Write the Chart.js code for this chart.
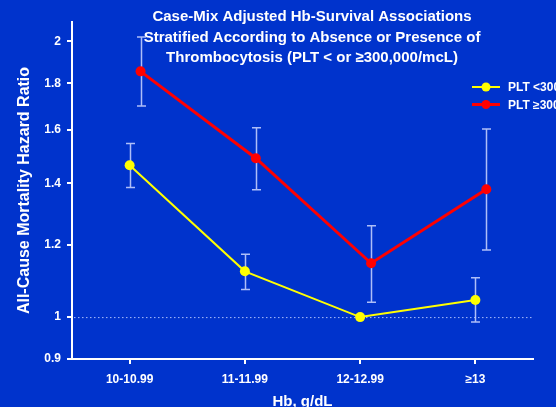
<!DOCTYPE html>
<html>
<head>
<meta charset="utf-8">
<script src="https://cdn.jsdelivr.net/npm/chart.js@4/dist/chart.umd.min.js"></script>
<style>
  html, body { margin: 0; padding: 0; background: #0033cc; }
  #wrap { width: 556px; height: 407px; position: relative; }
</style>
</head>
<body>
<div id="wrap"><canvas id="c" width="556" height="407"></canvas></div>
<script>
// ---- data ----
const categories = ['10-10.99', '11-11.99', '12-12.99', '\u226513'];
const yTicks = [0.9, 1, 1.2, 1.4, 1.6, 1.8, 2];
const pltLowLabel = 'PLT <300,000/mcL';
const pltHighLabel = 'PLT \u2265300,000/mcL';
const pltLow = [1.465, 1.122, 1.0, 1.044];
const pltLowLower = [1.385, 1.072, null, 0.988];
const pltLowUpper = [1.547, 1.171, null, 1.104];
const pltHigh = [1.855, 1.491, 1.145, 1.379];
const pltHighLower = [1.700, 1.377, 1.038, 1.184];
const pltHighUpper = [2.022, 1.610, 1.258, 1.605];
const highOffset = 0.095; // side-by-side shift of the second group within a category
const titleLines = ['Case-Mix Adjusted Hb-Survival Associations',
                    'Stratified According to Absence or Presence of',
                    'Thrombocytosis (PLT < or \u2265300,000/mcL)'];

const FONT = "'Liberation Sans', Arial, sans-serif";
const BG = '#0033cc';
const ERR = 'rgba(205,215,255,0.85)';

const lowPts = pltLow.map((v, i) => ({x: i, y: v}));
const highPts = pltHigh.map((v, i) => ({x: i + highOffset, y: v}));

const bgPlugin = {
  id: 'bg',
  beforeDraw(chart) {
    const ctx = chart.ctx;
    ctx.save();
    ctx.fillStyle = BG;
    ctx.fillRect(0, 0, chart.width, chart.height);
    ctx.restore();
  }
};

const extrasPlugin = {
  id: 'extras',
  beforeDatasetsDraw(chart) {
    const ctx = chart.ctx, xs = chart.scales.x, ys = chart.scales.y, ca = chart.chartArea;
    ctx.save();
    // dotted reference line at 1
    const y1 = ys.getPixelForValue(1);
    ctx.strokeStyle = 'rgba(190,205,255,0.9)';
    ctx.lineWidth = 1;
    ctx.setLineDash([1.5, 2.5]);
    ctx.beginPath();
    ctx.moveTo(ca.left + 2, y1 + 0.5);
    ctx.lineTo(ca.right, y1 + 0.5);
    ctx.stroke();
    ctx.setLineDash([]);
    // error bars
    const drawErr = (lo, hi, off) => {
      ctx.strokeStyle = ERR;
      ctx.lineWidth = 1.5;
      lo.forEach((l, i) => {
        const h = hi[i];
        if (l == null || h == null) return;
        const x = Math.round(xs.getPixelForValue(i + off)) + 0.5;
        const yl = ys.getPixelForValue(l), yh = ys.getPixelForValue(h);
        ctx.beginPath();
        ctx.moveTo(x, yl); ctx.lineTo(x, yh);
        ctx.moveTo(x - 4.5, yl); ctx.lineTo(x + 4.5, yl);
        ctx.moveTo(x - 4.5, yh); ctx.lineTo(x + 4.5, yh);
        ctx.stroke();
      });
    };
    drawErr(pltLowLower, pltLowUpper, 0);
    drawErr(pltHighLower, pltHighUpper, highOffset);
    ctx.restore();
  },
  afterDraw(chart) {
    const ctx = chart.ctx;
    ctx.save();
    // title
    ctx.fillStyle = '#ffffff';
    ctx.font = 'bold 15px ' + FONT;
    ctx.textAlign = 'center';
    ctx.textBaseline = 'middle';
    titleLines.forEach((t, i) => ctx.fillText(t, 312, 17 + i * 20.5));
    // legend
    const items = [
      {label: pltLowLabel, color: '#ffff00', y: 87, w: 2},
      {label: pltHighLabel, color: '#ff0000', y: 104.5, w: 3}
    ];
    items.forEach(it => {
      ctx.strokeStyle = it.color;
      ctx.lineWidth = it.w;
      ctx.beginPath();
      ctx.moveTo(472, it.y); ctx.lineTo(500, it.y);
      ctx.stroke();
      ctx.fillStyle = it.color;
      ctx.beginPath();
      ctx.arc(486, it.y, 4.5, 0, Math.PI * 2);
      ctx.fill();
      ctx.fillStyle = '#ffffff';
      ctx.font = 'bold 12px ' + FONT;
      ctx.textAlign = 'left';
      ctx.fillText(it.label, 508, it.y + 1);
    });
    ctx.restore();
  }
};

new Chart(document.getElementById('c'), {
  type: 'line',
  data: {
    datasets: [
      {
        label: pltLowLabel, data: lowPts,
        borderColor: '#ffff00', backgroundColor: '#ffff00',
        borderWidth: 2, pointRadius: 5, pointHoverRadius: 5, pointBorderWidth: 0
      },
      {
        label: pltHighLabel, data: highPts,
        borderColor: '#ff0000', backgroundColor: '#ff0000',
        borderWidth: 3, pointRadius: 5, pointHoverRadius: 5, pointBorderWidth: 0
      }
    ]
  },
  options: {
    responsive: false,
    animation: false,
    events: [],
    layout: { padding: { top: 22, right: 23, left: 0, bottom: 0 } },
    plugins: { legend: { display: false }, title: { display: false }, tooltip: { enabled: false } },
    scales: {
      x: {
        type: 'linear', min: -0.5, max: 3.5,
        afterBuildTicks(s) { s.ticks = categories.map((c, i) => ({value: i})); },
        afterFit(s) { s.height = 48; },
        ticks: {
          color: '#ffffff', font: { family: FONT, size: 12, weight: 'bold' }, padding: 8,
          callback: v => categories[v]
        },
        grid: { drawOnChartArea: false, drawTicks: true, tickLength: 5, color: '#ffffff', lineWidth: 2 },
        border: { display: true, color: '#ffffff', width: 2 },
        title: { display: true, text: 'Hb, g/dL', color: '#ffffff', font: { family: FONT, size: 15, weight: 'bold' }, padding: { top: 0, bottom: -4 } }
      },
      y: {
        type: 'logarithmic', min: 0.9, max: 2.1,
        afterBuildTicks(s) { s.ticks = yTicks.map(v => ({value: v})); },
        afterFit(s) { s.width = 72; },
        ticks: {
          color: '#ffffff', font: { family: FONT, size: 12, weight: 'bold' }, padding: 6,
          callback: v => String(v)
        },
        grid: { drawOnChartArea: false, drawTicks: true, tickLength: 5, color: '#ffffff', lineWidth: 2 },
        border: { display: true, color: '#ffffff', width: 2 },
        title: { display: true, text: 'All-Cause Mortality Hazard Ratio', color: '#ffffff', font: { family: FONT, size: 16, weight: 'bold' }, padding: { top: 15, bottom: 0 } }
      }
    }
  },
  plugins: [bgPlugin, extrasPlugin]
});
</script>
</body>
</html>
